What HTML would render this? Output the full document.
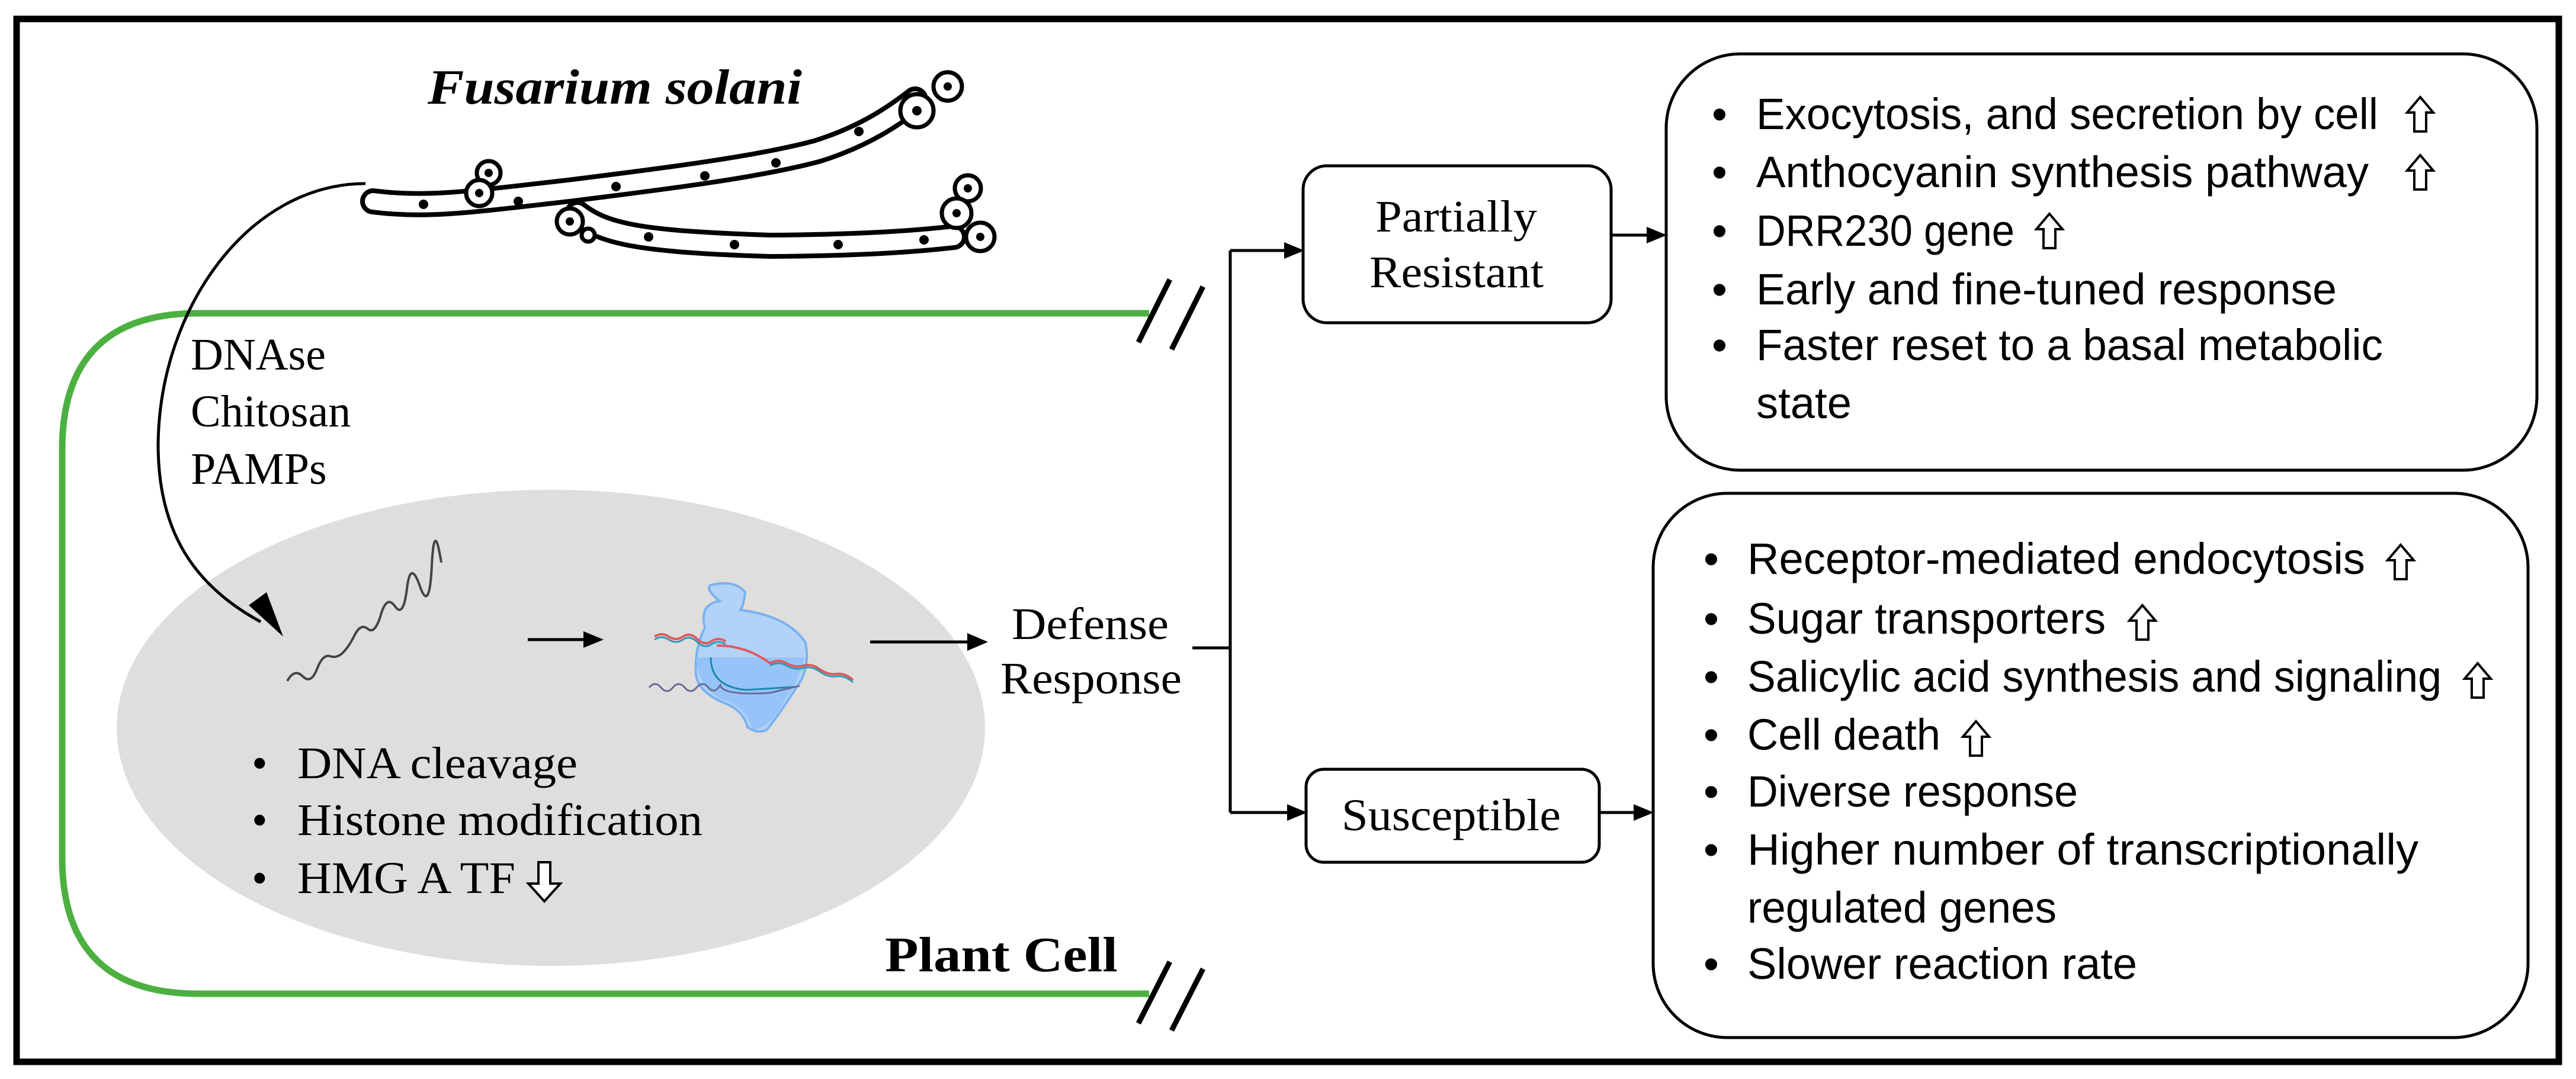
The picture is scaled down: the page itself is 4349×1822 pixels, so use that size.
<!DOCTYPE html>
<html><head><meta charset="utf-8"><style>
html,body{margin:0;padding:0;background:#fff;}
svg{display:block;}
.ser{font-family:"Liberation Serif",serif;}
.san{font-family:"Liberation Sans",sans-serif;}
</style></head><body>
<svg width="4349" height="1822" viewBox="0 0 4349 1822" xmlns="http://www.w3.org/2000/svg">
<rect x="28" y="32" width="4292" height="1761" fill="#fff" stroke="#000" stroke-width="11"/>

<!-- plant cell -->
<path d="M1940,529 L335,529 Q105,529 105,759 L105,1448 Q105,1678 335,1678 L1940,1678" fill="none" stroke="#4cb040" stroke-width="11"/>
<g stroke="#000" stroke-width="9">
<line x1="1922" y1="578" x2="1975" y2="472"/><line x1="1978" y1="590" x2="2031" y2="484"/>
<line x1="1922" y1="1728" x2="1975" y2="1624"/><line x1="1978" y1="1740" x2="2031" y2="1636"/>
</g>

<!-- nucleus -->
<ellipse cx="930" cy="1229" rx="733" ry="402" fill="#dfdedd"/>

<!-- fungus -->
<g fill="none" stroke-linecap="round" stroke-linejoin="round">
<path d="M630,340 C720,352 800,340 960,322 C1120,302 1280,282 1380,255 C1460,230 1510,195 1545,168" stroke="#000" stroke-width="44"/>
<path d="M630,340 C720,352 800,340 960,322 C1120,302 1280,282 1380,255 C1460,230 1510,195 1545,168" stroke="#fff" stroke-width="28"/>
<path d="M975,360 C1020,395 1080,408 1300,415 C1450,414 1540,408 1610,400" stroke="#000" stroke-width="44"/>
<path d="M975,360 C1020,395 1080,408 1300,415 C1450,414 1540,408 1610,400" stroke="#fff" stroke-width="28"/>
</g>
<g fill="#fff" stroke="#000" stroke-width="7">
<circle cx="1600" cy="146" r="24"/><circle cx="1548" cy="187" r="28"/>
<circle cx="825" cy="292" r="20"/><circle cx="809" cy="326" r="22"/>
<circle cx="962" cy="374" r="22"/><circle cx="993" cy="397" r="11"/>
<circle cx="1634" cy="318" r="22"/><circle cx="1615" cy="360" r="25"/><circle cx="1655" cy="400" r="24"/>
</g>
<g fill="#000">
<circle cx="1600" cy="146" r="7"/><circle cx="1548" cy="187" r="8"/><circle cx="825" cy="292" r="7"/><circle cx="809" cy="326" r="7"/><circle cx="962" cy="374" r="7"/><circle cx="1634" cy="318" r="7"/><circle cx="1615" cy="360" r="7"/><circle cx="1655" cy="400" r="7"/>
<circle cx="715" cy="345" r="8"/><circle cx="875" cy="340" r="8"/><circle cx="1040" cy="315" r="8"/><circle cx="1190" cy="297" r="8"/><circle cx="1310" cy="275" r="8"/><circle cx="1450" cy="222" r="8"/>
<circle cx="1095" cy="400" r="8"/><circle cx="1240" cy="413" r="8"/><circle cx="1415" cy="413" r="8"/><circle cx="1560" cy="405" r="8"/>
</g>
<text x="722" y="175" textLength="632" lengthAdjust="spacingAndGlyphs" class="ser" font-size="84" font-weight="bold" font-style="italic">Fusarium solani</text>

<!-- curved arrow -->
<path d="M617,310 C420,310 270,520 267,748 C266,900 330,990 440,1050" fill="none" stroke="#000" stroke-width="5"/>
<path d="M420,1022 L478,1075 L450,1000 Z" fill="#000"/>

<g class="ser" font-size="76">
<text x="322" y="624">DNAse</text>
<text x="322" y="720">Chitosan</text>
<text x="322" y="817">PAMPs</text>
</g>

<!-- DNA squiggle -->
<path d="M485,1150 q12,-22 26,-8 t24,-12 t22,-22 t22,-6 t20,-30 t22,-10 t22,-24 t24,-14 t20,-30 t22,-4 t20,-35 t16,-5" fill="none" stroke="#444" stroke-width="4"/>
<line x1="891" y1="1080" x2="990" y2="1080" stroke="#000" stroke-width="5"/>
<path d="M985,1066 L1019,1080 L985,1094 Z" fill="#000"/>
<!-- protein -->
<g>
<path d="M1190,1060 Q1180,1020 1215,1015 Q1190,995 1200,988 Q1240,978 1258,1000 Q1255,1025 1250,1030 Q1330,1040 1360,1085 Q1368,1130 1345,1160 Q1320,1200 1295,1232 Q1280,1240 1262,1228 Q1255,1200 1225,1188 Q1180,1170 1175,1140 Q1172,1095 1190,1060 Z" fill="#b3d2f7" stroke="#7ab2f0" stroke-width="4"/>
<path d="M1175,1110 Q1180,1170 1230,1185 Q1262,1200 1270,1232 Q1300,1230 1320,1190 Q1350,1150 1358,1110 Z" fill="#8ec0f7" opacity="0.8"/>
<path d="M1105,1075 q12,-8 24,0 t24,0 t24,4 t24,4 t24,0 M1210,1090 Q1260,1090 1300,1120 q14,-8 28,0 t28,4 t28,6 t28,8 t28,10" fill="none" stroke="#e05a5a" stroke-width="4"/>
<path d="M1105,1080 q12,-8 24,0 t24,0 t24,4 t24,4 t24,0 M1300,1124 q14,-8 28,0 t28,4 t28,6 t28,8 t28,10" fill="none" stroke="#2a9ab8" stroke-width="3"/>
<path d="M1200,1110 Q1200,1160 1260,1165 L1340,1160" fill="none" stroke="#1a8aa8" stroke-width="3"/>
<path d="M1096,1161 q10,-12 20,0 t20,0 t20,0 t20,0 t20,0 t20,-4 Q1220,1175 1300,1170 L1350,1158" fill="none" stroke="#6a6a9a" stroke-width="3"/>
</g>
<line x1="1469" y1="1084" x2="1640" y2="1084" stroke="#000" stroke-width="5"/>
<path d="M1633,1069 L1668,1084 L1633,1099 Z" fill="#000"/>
<g class="ser" font-size="76">
<text x="1708" y="1079" textLength="265" lengthAdjust="spacingAndGlyphs">Defense</text>
<text x="1689" y="1171" textLength="306" lengthAdjust="spacingAndGlyphs">Response</text>
</g>

<g class="ser" font-size="76">
<text x="425" y="1314">•</text><text x="502" y="1314" textLength="473" lengthAdjust="spacingAndGlyphs">DNA cleavage</text>
<text x="425" y="1410">•</text><text x="502" y="1410" textLength="684" lengthAdjust="spacingAndGlyphs">Histone modification</text>
<text x="425" y="1508">•</text><text x="502" y="1508" textLength="368" lengthAdjust="spacingAndGlyphs">HMG A TF</text>
</g>
<path d="M909,1456 L929,1456 L929,1492 L946,1492 L919,1522 L892,1492 L909,1492 Z" fill="#fff" stroke="#000" stroke-width="4"/>
<text x="1494" y="1640" textLength="393" lengthAdjust="spacingAndGlyphs" class="ser" font-size="84" font-weight="bold">Plant Cell</text>

<!-- branches -->
<g stroke="#000" stroke-width="5" fill="none">
<line x1="2013" y1="1094" x2="2077" y2="1094"/>
<line x1="2077" y1="423" x2="2077" y2="1372"/>
<line x1="2077" y1="423" x2="2175" y2="423"/>
<line x1="2077" y1="1372" x2="2180" y2="1372"/>
<line x1="2720" y1="397" x2="2785" y2="397"/>
<line x1="2700" y1="1372" x2="2765" y2="1372"/>
</g>
<g fill="#000">
<path d="M2168,409 L2202,423 L2168,437 Z"/>
<path d="M2173,1358 L2207,1372 L2173,1386 Z"/>
<path d="M2780,383 L2814,397 L2780,411 Z"/>
<path d="M2758,1358 L2792,1372 L2758,1386 Z"/>
</g>
<rect x="2200" y="280" width="520" height="265" rx="40" fill="#fff" stroke="#000" stroke-width="5"/>
<rect x="2205" y="1299" width="495" height="157" rx="30" fill="#fff" stroke="#000" stroke-width="5"/>
<g class="ser" font-size="76">
<text x="2322" y="391" textLength="273" lengthAdjust="spacingAndGlyphs">Partially</text>
<text x="2312" y="485" textLength="294" lengthAdjust="spacingAndGlyphs">Resistant</text>
<text x="2265" y="1402" textLength="370" lengthAdjust="spacingAndGlyphs">Susceptible</text>
</g>

<rect x="2813" y="91" width="1470" height="703" rx="125" fill="#fff" stroke="#000" stroke-width="5"/>
<rect x="2791" y="833" width="1477" height="919" rx="125" fill="#fff" stroke="#000" stroke-width="5"/>
<g class="san" font-size="74">
<text x="2890" y="218">•</text><text x="2965" y="218" textLength="1050" lengthAdjust="spacingAndGlyphs">Exocytosis, and secretion by cell</text>
<text x="2890" y="316">•</text><text x="2965" y="316" textLength="1034" lengthAdjust="spacingAndGlyphs">Anthocyanin synthesis pathway</text>
<text x="2890" y="415">•</text><text x="2965" y="415" textLength="436" lengthAdjust="spacingAndGlyphs">DRR230 gene</text>
<text x="2890" y="514">•</text><text x="2965" y="514" textLength="980" lengthAdjust="spacingAndGlyphs">Early and fine-tuned response</text>
<text x="2890" y="608">•</text><text x="2965" y="608" textLength="1058" lengthAdjust="spacingAndGlyphs">Faster reset to a basal metabolic</text>
<text x="2965" y="706" textLength="161" lengthAdjust="spacingAndGlyphs">state</text>

<text x="2876" y="969">•</text><text x="2950" y="969" textLength="1043" lengthAdjust="spacingAndGlyphs">Receptor-mediated endocytosis</text>
<text x="2876" y="1070">•</text><text x="2950" y="1070" textLength="605" lengthAdjust="spacingAndGlyphs">Sugar transporters</text>
<text x="2876" y="1168">•</text><text x="2950" y="1168" textLength="1172" lengthAdjust="spacingAndGlyphs">Salicylic acid synthesis and signaling</text>
<text x="2876" y="1266">•</text><text x="2950" y="1266" textLength="326" lengthAdjust="spacingAndGlyphs">Cell death</text>
<text x="2876" y="1362">•</text><text x="2950" y="1362" textLength="558" lengthAdjust="spacingAndGlyphs">Diverse response</text>
<text x="2876" y="1460">•</text><text x="2950" y="1460" textLength="1133" lengthAdjust="spacingAndGlyphs">Higher number of transcriptionally</text>
<text x="2950" y="1558" textLength="522" lengthAdjust="spacingAndGlyphs">regulated genes</text>
<text x="2876" y="1653">•</text><text x="2950" y="1653" textLength="658" lengthAdjust="spacingAndGlyphs">Slower reaction rate</text>
</g>
<!-- up arrows -->
<g fill="#fff" stroke="#000" stroke-width="4">
<path transform="translate(4086,222)" d="M0,-58 L22,-32 L10,-32 L10,0 L-10,0 L-10,-32 L-22,-32 Z"/>
<path transform="translate(4086,320)" d="M0,-58 L22,-32 L10,-32 L10,0 L-10,0 L-10,-32 L-22,-32 Z"/>
<path transform="translate(3460,419)" d="M0,-58 L22,-32 L10,-32 L10,0 L-10,0 L-10,-32 L-22,-32 Z"/>
<path transform="translate(4053,978)" d="M0,-58 L22,-32 L10,-32 L10,0 L-10,0 L-10,-32 L-22,-32 Z"/>
<path transform="translate(3617,1080)" d="M0,-58 L22,-32 L10,-32 L10,0 L-10,0 L-10,-32 L-22,-32 Z"/>
<path transform="translate(4183,1178)" d="M0,-58 L22,-32 L10,-32 L10,0 L-10,0 L-10,-32 L-22,-32 Z"/>
<path transform="translate(3336,1276)" d="M0,-58 L22,-32 L10,-32 L10,0 L-10,0 L-10,-32 L-22,-32 Z"/>
</g>
</svg>
</body></html>
